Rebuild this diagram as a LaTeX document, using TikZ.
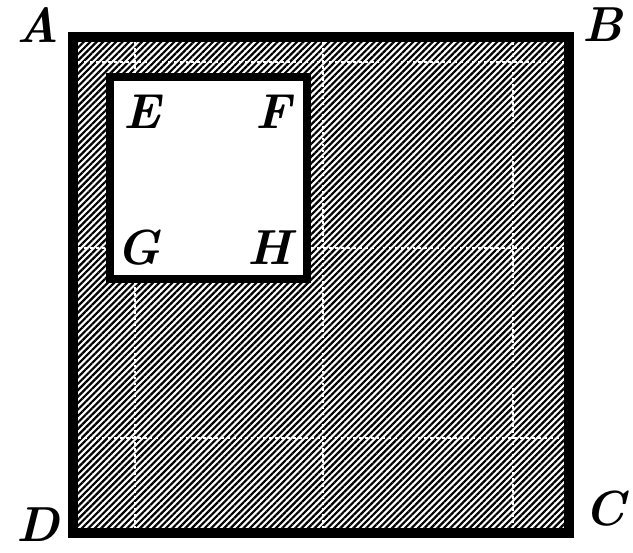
\documentclass[tikz,border=0pt]{standalone}
\usepackage{amsmath,amssymb}
\usepackage{tikz}
\usetikzlibrary{patterns.meta}
\tikzset{
  hatch/.style={pattern={Lines[angle=45,distance=2.6pt,line width=1.25pt]},pattern color=black},
  gridline/.style={white,line width=0.8pt,dash pattern=on 1.6pt off 1.8pt},
  wall/.style={line width=5.6pt,line join=miter},
  lbl/.style={font=\fontsize{28}{33}\selectfont\bfseries\itshape,inner sep=0pt},
}

\begin{document}
\begin{tikzpicture}[x=0.02cm,y=-0.02cm]
	\useasboundingbox (0,0) rectangle (633,552);
	\coordinate (A) at (73,37);
	\coordinate (B) at (569,37);
	\coordinate (C) at (569,533);
	\coordinate (D) at (73,533);
	\coordinate (E) at (110,77);
	\coordinate (F) at (307,77);
	\coordinate (G) at (110,279);
	\coordinate (H) at (307,279);
	
	\fill[white] (A) rectangle (C);
	\fill[hatch] (A) rectangle (C);
	\foreach \x in {135,323,513}
		\draw[gridline] (\x,42)--(\x,528);
	\foreach \y in {62,248,438}
		\draw[gridline] (78,\y)--(564,\y);
	\fill[white] (E) rectangle (H);
	
	\draw[wall] (A)--(B)--(C)--(D)--cycle;
	\draw[wall,line width=5.1pt] (E)--(F)--(H)--(G)--cycle;
	
	\node[lbl] (lA) at (38,25) {A};
	\node[lbl] (lB) at (603,25) {B};
	\node[lbl] (lC) at (605,509) {C};
	\node[lbl] (lD) at (38,525) {D};
	\node[lbl] (lE) at (142,112) {E};
	\node[lbl] (lF) at (273,112) {F};
	\node[lbl] (lG) at (139,248) {G};
	\node[lbl] (lH) at (270,248) {H};
\end{tikzpicture}
\end{document}
